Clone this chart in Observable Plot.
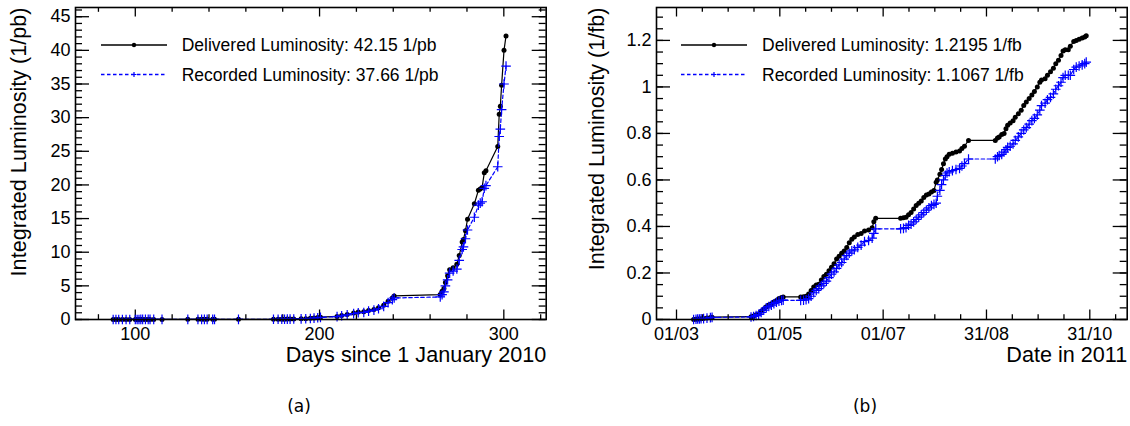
<!DOCTYPE html>
<html><head><meta charset="utf-8">
<script src="https://cdn.jsdelivr.net/npm/d3@7"></script>
<script src="https://cdn.jsdelivr.net/npm/@observablehq/plot@0.6"></script>
<style>
body{margin:0;background:#fff;}
#wrap{position:relative;width:1130px;height:426px;background:#fff;overflow:hidden}
.panel{position:absolute;top:0;width:565px;height:370px}
.panel svg{display:block}
.legend{position:absolute;left:0;top:0;pointer-events:none}
.cap{position:absolute;top:396px;font-family:"DejaVu Sans",sans-serif;font-size:17px;line-height:20px;transform:translateX(-50%);color:#000}
</style></head><body><div id="wrap"></div>
<script>
// ---------- Panel (a): 2010, days since 1 January 2010 ----------
const aDays = [88, 89.5, 91, 93, 95, 97, 100, 101, 102, 103, 104, 105.5, 107, 108, 110, 114.5, 128.5, 134, 136, 137.5, 139, 142, 143, 156, 175, 177.5, 179.5, 181, 182.5, 184, 186, 190, 192.5, 195, 197, 199, 200.5,
  209.5, 212, 215, 218.5, 221, 224, 226.6, 229.5, 232, 234.8, 237.2, 239.5, 240.5, 265.5, 266.5, 267.5, 268.3, 269.5, 270.6, 272.5, 274.5, 275.8, 277.4, 278.1, 279.2, 280.3, 284, 286.2, 287.2, 288.2, 289.4, 290.3, 296.7, 297.5, 298.1, 298.8, 300.1, 301.2];
const aDelivered = [0.001, 0.002, 0.003, 0.004, 0.005, 0.006, 0.008, 0.009, 0.01, 0.011, 0.012, 0.013, 0.014, 0.015, 0.016, 0.017, 0.019, 0.02, 0.021, 0.022, 0.023, 0.024, 0.025, 0.027, 0.03, 0.035, 0.04, 0.05, 0.06, 0.07, 0.08, 0.1, 0.13, 0.17, 0.22, 0.28, 0.35,
  0.45, 0.6, 0.75, 0.95, 1.1, 1.15, 1.35, 1.5, 1.75, 2.1, 2.7, 3.2, 3.5, 3.7, 4.2, 4.6, 5.5, 6.5, 7.4, 7.7, 8.2, 9.5, 11.5, 11.9, 13.2, 14.9, 17.2, 19.2, 19.4, 19.6, 21.8, 22.1, 25.7, 30.5, 31.7, 34.8, 40.0, 42.15];
const aRecorded = [0.001, 0.002, 0.003, 0.004, 0.005, 0.006, 0.007, 0.008, 0.009, 0.01, 0.011, 0.012, 0.013, 0.014, 0.015, 0.016, 0.017, 0.018, 0.019, 0.02, 0.021, 0.022, 0.023, 0.025, 0.028, 0.032, 0.037, 0.046, 0.055, 0.064, 0.073, 0.092, 0.12, 0.155, 0.2, 0.26, 0.32,
  0.42, 0.55, 0.7, 0.88, 1.0, 1.05, 1.25, 1.4, 1.6, 1.95, 2.5, 2.95, 3.2, 3.35, 3.7, 4.1, 5.0, 5.9, 6.9, 7.2, 7.5, 8.8, 10.4, 10.8, 12.0, 13.3, 15.2, 17.0, 17.3, 17.5, 19.5, 19.9, 22.7, 27.2, 28.3, 31.2, 35.0, 37.66];
const aXMajor = [100, 200, 300];
const aXMinor = [80, 120, 140, 160, 180, 220, 240, 260, 280, 320];
const aYMajor = [0, 5, 10, 15, 20, 25, 30, 35, 40, 45];
const aLegend = ["Delivered Luminosity: 42.15 1/pb", "Recorded Luminosity: 37.66 1/pb"];
const aXTitle = "Days since 1 January 2010";
const aYTitle = "Integrated Luminosity (1/pb)";

// ---------- Panel (b): 2011, days since 1 January 2011 (59 = 01/03) ----------
const bDays = [69.1, 70.5, 71.5, 72.5, 73.5, 75, 77, 79, 80, 103, 104.5, 106, 107.5, 109, 110.5, 112, 113.5, 115, 116.5, 118, 119.5, 121, 122,
  132.3, 134, 135.5, 137, 138.5, 140, 141.5, 143, 144.5, 146, 147.5, 149, 150.5, 152, 153.5, 155, 156.5, 158, 159.5, 161, 162.5, 164, 166, 168, 170, 172.4, 174.5, 175.5, 176.6,
  191.3, 193, 194.5, 196, 197.5, 199, 200.5, 202, 203.5, 205, 206.5, 208, 209.5, 211, 212.3, 213, 214.5, 215.5, 216.6, 217.7, 218.7, 220, 221.9, 224, 226.1, 227.5, 229, 231.4,
  247.2, 248.5, 249.5, 251, 252.4, 253.5, 254.5, 256, 257.7, 259, 260.8, 262.5, 264, 265.5, 267.2, 268.8, 270.3, 272, 273.5, 274.5, 276.6, 278, 279.8, 281.5, 282.9, 284.5, 286, 287.2, 288.5, 290.3, 291.5, 293.5, 295, 296.7, 298.5, 300, 300.9];
const bDelivered = [0.000, 0.001, 0.002, 0.002, 0.003, 0.004, 0.006, 0.009, 0.01, 0.012, 0.015, 0.02, 0.025, 0.035, 0.045, 0.055, 0.062, 0.068, 0.075, 0.082, 0.09, 0.095, 0.097,
  0.097, 0.098, 0.1, 0.11, 0.125, 0.14, 0.148, 0.152, 0.17, 0.185, 0.195, 0.21, 0.225, 0.24, 0.26, 0.272, 0.285, 0.295, 0.31, 0.33, 0.345, 0.355, 0.365, 0.37, 0.38, 0.385, 0.395, 0.42, 0.435,
  0.435, 0.437, 0.44, 0.45, 0.46, 0.475, 0.49, 0.5, 0.51, 0.525, 0.535, 0.54, 0.548, 0.555, 0.59, 0.6, 0.625, 0.645, 0.67, 0.69, 0.7, 0.71, 0.715, 0.72, 0.725, 0.735, 0.745, 0.77,
  0.77, 0.78, 0.785, 0.795, 0.8, 0.82, 0.835, 0.845, 0.855, 0.87, 0.885, 0.9, 0.92, 0.935, 0.95, 0.965, 0.98, 1.0, 1.02, 1.03, 1.035, 1.05, 1.065, 1.08, 1.1, 1.115, 1.135, 1.155, 1.16, 1.16, 1.175, 1.195, 1.2, 1.205, 1.21, 1.215, 1.2195];
const bRecorded = [0.000, 0.001, 0.002, 0.002, 0.003, 0.004, 0.006, 0.008, 0.009, 0.011, 0.013, 0.017, 0.022, 0.03, 0.04, 0.05, 0.056, 0.062, 0.068, 0.074, 0.079, 0.082, 0.083,
  0.082, 0.083, 0.085, 0.09, 0.1, 0.115, 0.125, 0.133, 0.145, 0.155, 0.165, 0.18, 0.195, 0.205, 0.22, 0.235, 0.245, 0.26, 0.275, 0.285, 0.295, 0.3, 0.31, 0.32, 0.335, 0.34, 0.35, 0.37, 0.39,
  0.39, 0.392, 0.395, 0.405, 0.41, 0.42, 0.43, 0.44, 0.45, 0.46, 0.47, 0.48, 0.49, 0.495, 0.5, 0.53, 0.555, 0.58, 0.6, 0.62, 0.63, 0.635, 0.64, 0.645, 0.65, 0.66, 0.67, 0.69,
  0.69, 0.7, 0.705, 0.71, 0.72, 0.73, 0.74, 0.745, 0.755, 0.77, 0.785, 0.8, 0.815, 0.825, 0.84, 0.855, 0.865, 0.88, 0.9, 0.92, 0.93, 0.945, 0.955, 0.97, 0.99, 1.005, 1.02, 1.04, 1.05, 1.05, 1.05, 1.075, 1.085, 1.09, 1.095, 1.1, 1.1067];
const bXMajor = [59, 120, 181, 242, 303];
const bXLabels = ["01/03", "01/05", "01/07", "31/08", "31/10"];
const bXMinor = [74.25, 89.5, 104.75, 135.25, 150.5, 165.75, 196.25, 211.5, 226.75, 257.25, 272.5, 287.75, 318.25];
const bYMajor = [0, 0.2, 0.4, 0.6, 0.8, 1, 1.2];
const bYLabels = ["0", "0.2", "0.4", "0.6", "0.8", "1", "1.2"];
const bLegend = ["Delivered Luminosity: 1.2195 1/fb", "Recorded Luminosity: 1.1067 1/fb"];
const bXTitle = "Date in 2011";
const bYTitle = "Integrated Luminosity (1/fb)";

const FONT = '"Liberation Sans", Arial, Helvetica, sans-serif';
const BLUE = "#0000ff";

function panel(o) {
  const W = 565, H = 370, mt = 7, mb = 51;
  const innerW = W - o.marginLeft - o.marginRight, innerH = H - mt - mb;
  const dD = o.days.map((d, i) => ({x: d, y: o.delivered[i]}));
  const dR = o.days.map((d, i) => ({x: d, y: o.recorded[i]}));
  const xMaj = 9.5, xMin = 4.8, yMaj = 14, yMin = 7;
  const tk = {stroke: "black", strokeWidth: 1.3};
  return Plot.plot({
    width: W, height: H,
    marginLeft: o.marginLeft, marginRight: o.marginRight, marginTop: mt, marginBottom: mb,
    x: {type: "linear", domain: o.xDomain},
    y: {type: "linear", domain: o.yDomain},
    style: {fontFamily: FONT, fontSize: "18px", background: "white", color: "black", overflow: "visible"},
    marks: [
      Plot.tickX(o.xMajor, {x: d => d, insetTop: innerH - xMaj, ...tk}),
      Plot.tickX(o.xMajor, {x: d => d, insetBottom: innerH - xMaj, ...tk}),
      Plot.tickX(o.xMinor, {x: d => d, insetTop: innerH - xMin, ...tk}),
      Plot.tickX(o.xMinor, {x: d => d, insetBottom: innerH - xMin, ...tk}),
      Plot.tickY(o.yMajor, {y: d => d, insetRight: innerW - yMaj, ...tk}),
      Plot.tickY(o.yMajor, {y: d => d, insetLeft: innerW - yMaj, ...tk}),
      Plot.tickY(o.yMinor, {y: d => d, insetRight: innerW - yMin, ...tk}),
      Plot.tickY(o.yMinor, {y: d => d, insetLeft: innerW - yMin, ...tk}),
      Plot.axisX({ticks: o.xMajor, tickSize: 0, tickPadding: 8, tickFormat: o.xFormat, label: null, fontSize: 18}),
      Plot.axisY({ticks: o.yMajor, tickSize: 0, tickPadding: 5, tickFormat: o.yFormat, label: null, fontSize: 18}),
      Plot.line(dD, {x: "x", y: "y", stroke: "black", strokeWidth: 1.2}),
      Plot.dot(dD, {x: "x", y: "y", r: 2.5, fill: "black"}),
      Plot.line(dR, {x: "x", y: "y", stroke: BLUE, strokeWidth: 1.2, strokeDasharray: "3.5,2.5"}),
      Plot.dot(dR, {x: "x", y: "y", r: 3.2, symbol: "plus", stroke: BLUE, strokeWidth: 1.2}),
      Plot.frame({stroke: "black", strokeWidth: 1.6}),
      Plot.text([o.xTitle], {text: d => d, frameAnchor: "bottom-right", textAnchor: "end", lineAnchor: "middle", dy: 35.5, fontSize: 21.6}),
      Plot.text([o.yTitle], {text: d => d, frameAnchor: "top-left", rotate: -90, textAnchor: "end", lineAnchor: "middle", dx: o.yTitleDx, fontSize: 21.6})
    ]
  });
}

function legend(container, labels, lx0, lx1, mx, tx, ys) {
  const svg = d3.select(container).append("svg").attr("class", "legend").attr("width", 565).attr("height", 370);
  svg.append("line").attr("x1", lx0).attr("x2", lx1).attr("y1", ys[0]).attr("y2", ys[0]).attr("stroke", "black").attr("stroke-width", 1.3);
  svg.append("circle").attr("cx", mx).attr("cy", ys[0]).attr("r", 2.2).attr("fill", "black");
  svg.append("line").attr("x1", lx0).attr("x2", lx1).attr("y1", ys[1]).attr("y2", ys[1]).attr("stroke", BLUE).attr("stroke-width", 1.3).attr("stroke-dasharray", "3.5,2.5");
  svg.append("path").attr("d", `M${mx-2.5},${ys[1]}h5M${mx},${ys[1]-2.5}v5`).attr("stroke", BLUE).attr("stroke-width", 1.2);
  labels.forEach((t, i) => {
    svg.append("text").attr("x", tx).attr("y", ys[i]).attr("dy", "0.35em").attr("font-family", FONT).attr("font-size", 17.5).attr("fill", "black").text(t);
  });
}

const wrap = document.getElementById("wrap");

const pa = document.createElement("div"); pa.className = "panel"; pa.style.left = "0px"; wrap.appendChild(pa);
pa.appendChild(panel({
  days: aDays, delivered: aDelivered, recorded: aRecorded,
  xDomain: [67.55, 323], yDomain: [0, 46.37],
  xMajor: aXMajor, xMinor: aXMinor, xFormat: d => String(d),
  yMajor: aYMajor, yMinor: d3.range(0, 47, 1), yFormat: d => String(d),
  xTitle: aXTitle, yTitle: aYTitle,
  marginLeft: 75, marginRight: 19.3, yTitleDx: -56.5
}));
legend(pa, aLegend, 101, 167, 134, 181.7, [45, 74.5]);

const pb = document.createElement("div"); pb.className = "panel"; pb.style.left = "565px"; wrap.appendChild(pb);
pb.appendChild(panel({
  days: bDays, delivered: bDelivered, recorded: bRecorded,
  xDomain: [47.19, 325.08], yDomain: [0, 1.3415],
  xMajor: bXMajor, xMinor: bXMinor, xFormat: d => bXLabels[bXMajor.indexOf(d)],
  yMajor: bYMajor, yMinor: d3.range(0, 1.34, 0.05), yFormat: d => bYLabels[bYMajor.indexOf(d)],
  xTitle: bXTitle, yTitle: bYTitle,
  marginLeft: 91, marginRight: 3.3, yTitleDx: -59.5
}));
legend(pb, bLegend, 116, 182, 149, 197, [45, 74.5]);

const ca = document.createElement("div"); ca.className = "cap"; ca.style.left = "299px"; ca.textContent = "(a)"; wrap.appendChild(ca);
const cb = document.createElement("div"); cb.className = "cap"; cb.style.left = "865px"; cb.textContent = "(b)"; wrap.appendChild(cb);
</script></body></html>
